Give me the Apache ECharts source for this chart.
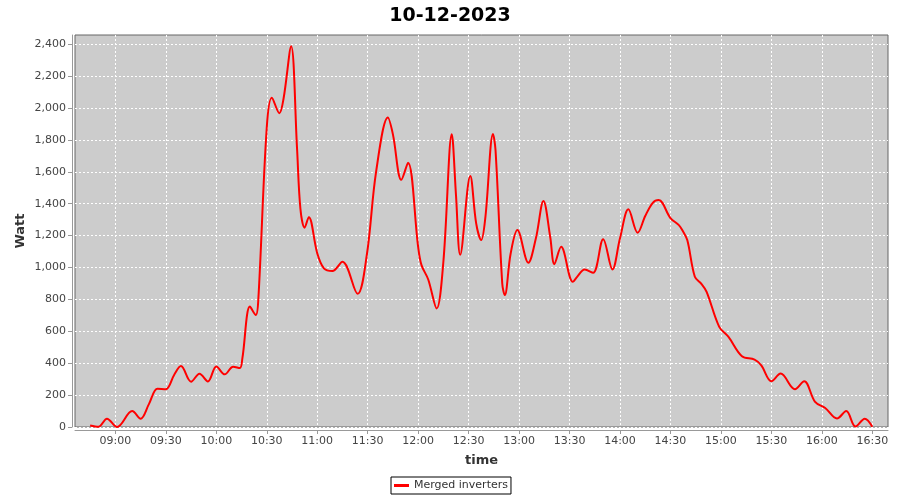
<!DOCTYPE html>
<html>
<head>
<meta charset="utf-8">
<script src="https://cdn.jsdelivr.net/npm/echarts@6/dist/echarts.min.js"></script>
<style>
html,body{margin:0;padding:0;background:#fff;}
#chart{width:900px;height:500px;}
</style>
</head>
<body>
<div id="chart"></div>
<script>
var chartTitle = '10-12-2023';
var seriesName = 'Merged inverters';
var times = ['08:45','08:50','08:55','09:01','09:10','09:15','09:20','09:25','09:30','09:35','09:39','09:45','09:50','09:55','10:00','10:05','10:10','10:14','10:15:30','10:20','10:23:30','10:25','10:30','10:33','10:37:30','10:40','10:44:30','10:48','10:50','10:52:30','10:55','11:00','11:04','11:09','11:15','11:24','11:29:30','11:35','11:42','11:45','11:50','11:54','12:00','12:02','12:06','12:11','12:15','12:20','12:22:30','12:25','12:31','12:34:30','12:37:30','12:40','12:44:30','12:46','12:50','12:51:30','12:55','12:59','13:05:30','13:10','13:14:30','13:18:30','13:21','13:25','13:32','13:34:30','13:39','13:44','13:50','13:55:30','14:00','14:05','14:10:30','14:15','14:19:30','14:23','14:30','14:35','14:37','14:40','14:44:30','14:48:30','14:51:30','14:59','15:04:30','15:12:30','15:20','15:24','15:30','15:35:30','15:44','15:49:30','15:56','16:02','16:09','16:14:30','16:20','16:25:30','16:30'];
var watts = [10,2,52,0,100,52,145,240,237,328,382,284,334,286,380,330,378,370,430,755,702,802,1878,2065,1968,2060,2388,1748,1370,1250,1316,1090,995,978,1036,835,1080,1600,1940,1835,1550,1657,1130,1015,925,743,1036,1835,1454,1080,1574,1277,1172,1318,1838,1737,900,827,1088,1235,1030,1183,1417,1193,1021,1130,910,941,988,967,1178,988,1183,1365,1218,1323,1406,1423,1310,1266,1235,1172,942,896,848,628,565,444,423,387,287,335,237,287,157,119,53,100,3,52,2];
var xTickLabels = ['09:00','09:30','10:00','10:30','11:00','11:30','12:00','12:30','13:00','13:30','14:00','14:30','15:00','15:30','16:00','16:30'];
var yTickValues = [0,200,400,600,800,1000,1200,1400,1600,1800,2000,2200,2400];
var axisStart = '08:36';
var axisEnd = '16:39:20';
var yMax = 2458;

function toMin(s){
  var p = s.split(':');
  return (+p[0])*60 + (+p[1]) + (+(p[2]||0))/60;
}
function pad(n){ return (n<10?'0':'')+n; }
function minLabel(v){
  var m = Math.round(v);
  return pad(Math.floor(m/60)) + ':' + pad(m%60);
}
var data = times.map(function(t,i){ return [toMin(t), watts[i]]; });
var xTicks = xTickLabels.map(toMin);

var chart = echarts.init(document.getElementById('chart'), null, {renderer:'canvas'});
var FONT = 'DejaVu Sans';
chart.setOption({
  animation: false,
  backgroundColor: '#ffffff',
  title: {
    text: chartTitle, left: 'center', top: 2,
    textStyle: {fontFamily: FONT, fontWeight: 'bold', fontSize: 19, color: '#000'}
  },
  legend: {
    left: 391, top: 477,
    padding: [3, 3, 3, 3],
    borderColor: '#000', borderWidth: 1,
    itemWidth: 15, itemHeight: 3, itemGap: 4,
    icon: 'rect',
    textStyle: {fontFamily: FONT, fontSize: 11, color: '#333'},
    data: [seriesName]
  },
  grid: {
    left: 75, right: 12, top: 35, bottom: 73,
    show: true, backgroundColor: '#cccccc',
    borderColor: '#666', borderWidth: 1
  },
  xAxis: {
    type: 'value',
    min: toMin(axisStart), max: toMin(axisEnd),
    offset: 3,
    name: 'time', nameLocation: 'middle', nameGap: 24,
    nameTextStyle: {fontFamily: FONT, fontWeight: 'bold', fontSize: 13, color: '#333'},
    axisLine: {show: true, onZero: false, lineStyle: {color: '#999', width: 1}},
    axisTick: {show: true, length: 4, customValues: xTicks, lineStyle: {color: '#999'}},
    axisLabel: {
      fontFamily: FONT, fontSize: 11, color: '#444', margin: 6,
      customValues: xTicks,
      formatter: function(v){ return minLabel(v); }
    },
    splitLine: {show: true, lineStyle: {color: '#ffffff', type: [2,2], width: 1}}
  },
  yAxis: {
    type: 'value',
    min: 0, max: yMax,
    offset: 3,
    name: 'Watt', nameLocation: 'middle', nameGap: 45,
    nameMoveOverlap: false,
    nameTextStyle: {fontFamily: FONT, fontWeight: 'bold', fontSize: 13, color: '#333'},
    axisLine: {show: true, lineStyle: {color: '#999', width: 1}},
    axisTick: {show: true, length: 4, customValues: yTickValues, lineStyle: {color: '#999'}},
    axisLabel: {
      fontFamily: FONT, fontSize: 11, color: '#444', margin: 6,
      customValues: yTickValues,
      formatter: function(v){ return v.toLocaleString('en-US'); }
    },
    splitLine: {show: true, lineStyle: {color: '#ffffff', type: [2,2], width: 1}}
  },
  series: [{
    name: seriesName,
    type: 'line',
    data: data,
    showSymbol: false,
    smooth: 0.35,
    lineStyle: {color: '#ff0000', width: 2},
    itemStyle: {color: '#ff0000'}
  }]
});
</script>
</body>
</html>
